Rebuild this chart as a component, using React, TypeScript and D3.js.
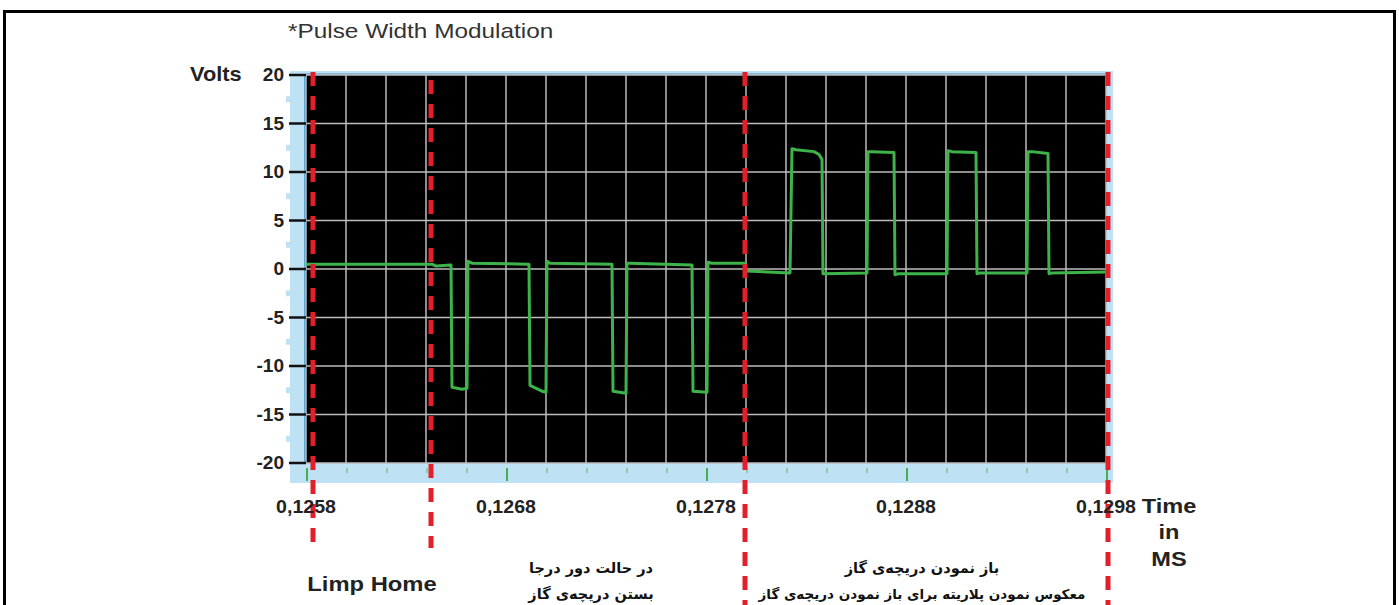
import React from 'react';
import * as d3 from 'd3';

// ---- data (time in ms, volts) ----
const timeMs = [
  0.1258, 0.12643, 0.12645, 0.126525, 0.12653, 0.12658, 0.126605, 0.12661, 0.12663,
  0.126915, 0.12692, 0.12698, 0.127, 0.127005, 0.12702,
  0.12733, 0.127335, 0.1274, 0.127405, 0.12742,
  0.12773, 0.127735, 0.127805, 0.12781, 0.12783,
  0.127995, 0.128, 0.12822, 0.12823, 0.12825, 0.12834, 0.128365, 0.12838, 0.128385,
  0.128605, 0.12861, 0.12863, 0.12874, 0.128745, 0.12876,
  0.129005, 0.12901, 0.12903, 0.12915, 0.129155, 0.12917,
  0.129405, 0.12941, 0.12943, 0.12951, 0.129515, 0.12953, 0.1298,
];
const volts = [
  0.5, 0.5, 0.3, 0.4, -12.2, -12.4, -12.3, 0.8, 0.6,
  0.5, -12.0, -12.6, -12.7, 0.8, 0.6,
  0.5, -12.6, -12.8, 0.6, 0.6,
  0.4, -12.6, -12.7, 0.7, 0.6,
  0.6, -0.2, -0.4, 12.4, 12.3, 12.1, 11.8, 11.3, -0.5,
  -0.4, 12.1, 12.1, 12.0, -0.6, -0.5,
  -0.5, 12.2, 12.1, 12.0, -0.5, -0.4,
  -0.4, 12.1, 12.1, 11.9, -0.5, -0.4, -0.3,
];
const yTicks = [20, 15, 10, 5, 0, -5, -10, -15, -20];
const xLabelValues = [0.1258, 0.1268, 0.1278, 0.1288, 0.1298];
const xLabelTexts = ['0,1258', '0,1268', '0,1278', '0,1288', '0,1298'];
const markerTimes = [0.125835, 0.126425, 0.127995, 0.12981];
const title = '*Pulse Width Modulation';
const yAxisTitle = 'Volts';
const xAxisTitle = ['Time', 'in', 'MS'];
const limpHome = 'Limp Home';
const closeText = ['در حالت دور درجا', 'بستن دریچه‌ی گاز'];
const openText = ['باز نمودن دریچه‌ی گاز', 'معکوس نمودن پلاریته برای باز نمودن دریچه‌ی گاز'];

const W = 1399;
const H = 605;
const X0 = 306, X1 = 1106, Y0 = 75, Y1 = 463;

export default function App() {
  const x = d3.scaleLinear().domain([0.1258, 0.1298]).range([X0, X1]);
  const y = d3.scaleLinear().domain([-20, 20]).range([Y1, Y0]);
  const gridX = d3.range(0, 21).map((i) => 0.1258 + i * 0.0002);
  const gridY = d3.range(-20, 21, 5);
  const notchY = d3.range(-17.5, 20, 5);
  const pts: [number, number][] = timeMs.map((t, i) => [t, volts[i]]);
  const line = d3.line<[number, number]>().x((d) => x(d[0])).y((d) => y(d[1]));
  const font = 'Arial, "Liberation Sans", sans-serif';
  const fa = '"DejaVu Sans", sans-serif';
  const sx = (cx: number, k: number) => `translate(${cx},0) scale(${k},1) translate(${-cx},0)`;

  return (
    <svg width={W} height={H} style={{ position: 'absolute', left: 0, top: 0, background: '#fff' }}>
      <rect x={4.5} y={11.5} width={1390} height={620} fill="none" stroke="#000" strokeWidth={3} />
      <text x={288} y={38} fontFamily={font} fontSize={21} fill="#333" transform={sx(288, 1.16)}>{title}</text>

      {/* blue frame */}
      <rect x={290} y={71} width={823} height={412} fill="#bfe1f4" />
      {notchY.map((v) => (
        <rect key={'n' + v} x={286} y={y(v) - 3} width={5} height={6} fill="#bfe1f4" />
      ))}
      <rect x={X0} y={Y0} width={X1 - X0} height={Y1 - Y0} fill="#000" />
      <line x1={X0 - 1} x2={X0 - 1} y1={Y0} y2={Y1} stroke="#3b8fc9" strokeWidth={1.5} />
      <line x1={X0} x2={X1} y1={Y0 - 1} y2={Y0 - 1} stroke="#6aaedb" strokeWidth={1.5} />

      {/* grid */}
      {gridX.map((t, i) => (
        <line key={'gx' + i} x1={x(t)} x2={x(t)} y1={Y0} y2={Y1} stroke="#bdbdbd" strokeWidth={1.5} />
      ))}
      {gridY.map((v) => (
        <line key={'gy' + v} x1={X0} x2={X1} y1={y(v)} y2={y(v)} stroke="#bdbdbd" strokeWidth={1.5} />
      ))}

      {/* green ticks on bottom ruler */}
      {gridX.map((t, i) => (
        <line key={'gt' + i} x1={x(t) + 1} x2={x(t) + 1} y1={Y1 + 5} y2={i % 5 === 0 ? Y1 + 18 : Y1 + 10}
          stroke={i % 5 === 0 ? '#48ad55' : '#6cc078'} strokeWidth={i % 5 === 0 ? 2 : 1.2} />
      ))}

      {/* y axis */}
      {yTicks.map((v) => (
        <g key={'yt' + v}>
          <line x1={289} x2={X0} y1={y(v)} y2={y(v)} stroke="#111" strokeWidth={2.5} />
          <text x={284} y={y(v) + 6.5} textAnchor="end" fontFamily={font} fontWeight="bold" fontSize={18} fill="#222"
            transform={sx(284, 1.06)}>{v}</text>
        </g>
      ))}
      <text x={190} y={81} fontFamily={font} fontWeight="bold" fontSize={20} fill="#222" transform={sx(190, 1.09)}>{yAxisTitle}</text>

      {/* signal */}
      <path d={line(pts) || ''} fill="none" stroke="#3db34a" strokeWidth={3} strokeLinejoin="round" />

      {/* red markers */}
      {markerTimes.map((t, i) => (
        <line key={'m' + i} x1={x(t)} x2={x(t)} y1={i === 1 ? 80 : 72} y2={i < 2 ? 548 : 606}
          stroke="#e3202a" strokeWidth={5} strokeDasharray="14 10" />
      ))}

      {/* x labels */}
      {xLabelValues.map((t, i) => (
        <text key={'xl' + i} x={x(t)} y={513} textAnchor="middle" fontFamily={font} fontWeight="bold" fontSize={17.5} fill="#222"
          transform={sx(x(t), 1.12)}>{xLabelTexts[i]}</text>
      ))}
      {xAxisTitle.map((s, i) => (
        <text key={'xt' + i} x={1169} y={513 + i * 26.5} textAnchor="middle" fontFamily={font} fontWeight="bold" fontSize={20.5} fill="#222"
          transform={sx(1169, 1.15)}>{s}</text>
      ))}

      {/* annotations */}
      <text x={372} y={591} textAnchor="middle" fontFamily={font} fontWeight="bold" fontSize={20.5} fill="#222" transform={sx(372, 1.16)}>{limpHome}</text>
      {closeText.map((s, i) => (
        <text key={'c' + i} x={591} y={573 + i * 26} textAnchor="middle" fontFamily={fa} fontWeight="bold" fontSize={14.5} fill="#111" direction="rtl">{s}</text>
      ))}
      {openText.map((s, i) => (
        <text key={'o' + i} x={922} y={573 + i * 26} textAnchor="middle" fontFamily={fa} fontWeight="bold" fontSize={i === 0 ? 14.5 : 13.5} fill="#111" direction="rtl">{s}</text>
      ))}
    </svg>
  );
}
